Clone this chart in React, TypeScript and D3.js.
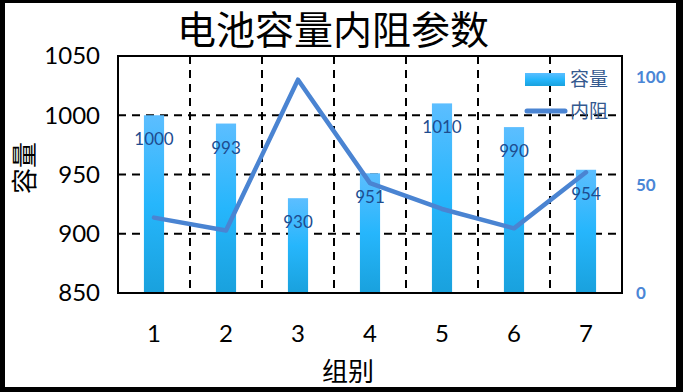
import * as d3 from "d3";

const groups = ["1", "2", "3", "4", "5", "6", "7"];
const capacity = [1000, 993, 930, 951, 1010, 990, 954];
const resistance = [35, 29, 99, 51, 39, 30, 56];
const leftTicks = [850, 900, 950, 1000, 1050];
const rightTicks = [0, 50, 100];

const width = 683;
const height = 392;
const plotLeft = 118;
const plotRight = 622;
const plotTop = 56;
const plotBottom = 293;

const numFont = "Lato, 'Open Sans', sans-serif";
const cjkFont = "'Noto Sans CJK SC', sans-serif";
const lineColor = "#4a84d2";

const App = () => {
  const x = d3.scaleBand<string>().domain(groups).range([plotLeft, plotRight]);
  const yLeft = d3.scaleLinear().domain([850, 1050]).range([plotBottom, plotTop]);
  const yRight = d3.scaleLinear().domain([0, 110]).range([plotBottom, plotTop]);

  const barWidth = x.bandwidth() * 0.28;
  const cx = (g: string) => (x(g) as number) + x.bandwidth() / 2;

  const line = d3
    .line<number>()
    .x((_, i) => cx(groups[i]))
    .y((d) => yRight(d));

  return (
    <svg
      width={width}
      height={height}
      style={{ position: "absolute", left: 0, top: 0 }}
    >
      <defs>
        <linearGradient id="barGrad" x1="0" y1="0" x2="0" y2="1">
          <stop offset="0%" stopColor="#5cbeff" />
          <stop offset="50%" stopColor="#26b6fc" />
          <stop offset="100%" stopColor="#19a1dd" />
        </linearGradient>
      </defs>

      {/* outer frame */}
      <rect x={0} y={0} width={width} height={height} fill="#000" />
      <rect x={5} y={3} width={671} height={384} fill="#fff" />

      {/* title */}
      <text
        x={333}
        y={44}
        textAnchor="middle"
        fontSize={39}
        fontFamily={cjkFont}
        fill="#000"
      >
        电池容量内阻参数
      </text>

      {/* gridlines */}
      <g stroke="#000" strokeWidth={2} strokeDasharray="8,6">
        {leftTicks.slice(1, -1).map((t) => (
          <line key={t} x1={plotLeft} x2={plotRight} y1={yLeft(t)} y2={yLeft(t)} />
        ))}
        {groups.slice(1).map((g) => (
          <line key={g} x1={x(g)} x2={x(g)} y1={plotTop} y2={plotBottom} />
        ))}
      </g>

      {/* bars */}
      <g className="bars">
        {groups.map((g, i) => (
          <rect
            key={g}
            x={cx(g) - barWidth / 2}
            y={yLeft(capacity[i])}
            width={barWidth}
            height={plotBottom - yLeft(capacity[i])}
            fill="url(#barGrad)"
          />
        ))}
      </g>

      {/* plot border */}
      <rect
        x={plotLeft}
        y={plotTop}
        width={plotRight - plotLeft}
        height={plotBottom - plotTop}
        fill="none"
        stroke="#000"
        strokeWidth={2}
      />

      {/* resistance line */}
      <path
        d={line(resistance) ?? ""}
        fill="none"
        stroke={lineColor}
        strokeWidth={4.5}
        strokeLinejoin="round"
        strokeLinecap="round"
      />

      {/* data labels */}
      <g className="labels">
        {groups.map((g, i) => (
          <text
            key={g}
            x={cx(g)}
            y={yLeft(capacity[i]) + 30}
            textAnchor="middle"
            fontSize={17}
            fontFamily={numFont}
            fill="#1d4c8f"
          >
            {capacity[i]}
          </text>
        ))}
      </g>

      {/* left axis labels */}
      <g className="y-axis">
        {leftTicks.map((t) => (
          <text
            key={t}
            x={100}
            y={yLeft(t)}
            dy="0.35em"
            textAnchor="end"
            fontSize={24}
            fontFamily={numFont}
            fill="#000"
          >
            {t}
          </text>
        ))}
      </g>

      {/* right axis labels */}
      <g className="y-axis-right">
        {rightTicks.map((t) => (
          <text
            key={t}
            x={636}
            y={yRight(t)}
            dy="0.35em"
            textAnchor="start"
            fontSize={17}
            fontWeight="bold"
            fontFamily={numFont}
            fill="#4a86d6"
          >
            {t}
          </text>
        ))}
      </g>

      {/* x axis labels */}
      <g className="x-axis">
        {groups.map((g) => (
          <text
            key={g}
            x={cx(g)}
            y={334}
            dy="0.35em"
            textAnchor="middle"
            fontSize={24}
            fontFamily={numFont}
            fill="#000"
          >
            {g}
          </text>
        ))}
      </g>

      {/* axis titles */}
      <text
        x={348}
        y={372}
        dy="0.35em"
        textAnchor="middle"
        fontSize={26}
        fontFamily={cjkFont}
        fill="#000"
      >
        组别
      </text>
      <text
        transform={`translate(25,168) rotate(-90)`}
        dy="0.35em"
        textAnchor="middle"
        fontSize={26}
        fontFamily={cjkFont}
        fill="#000"
      >
        容量
      </text>

      {/* legend */}
      <g className="legend">
        <rect x={525} y={73} width={40} height={13} fill="url(#barGrad)" />
        <text
          x={570}
          y={79}
          dy="0.35em"
          fontSize={19}
          fontFamily={cjkFont}
          fill="#34598f"
        >
          容量
        </text>
        <line
          x1={527}
          x2={565}
          y1={111}
          y2={111}
          stroke={lineColor}
          strokeWidth={5}
          strokeLinecap="round"
        />
        <text
          x={570}
          y={111}
          dy="0.35em"
          fontSize={19}
          fontFamily={cjkFont}
          fill="#34598f"
        >
          内阻
        </text>
      </g>
    </svg>
  );
};

export default App;
